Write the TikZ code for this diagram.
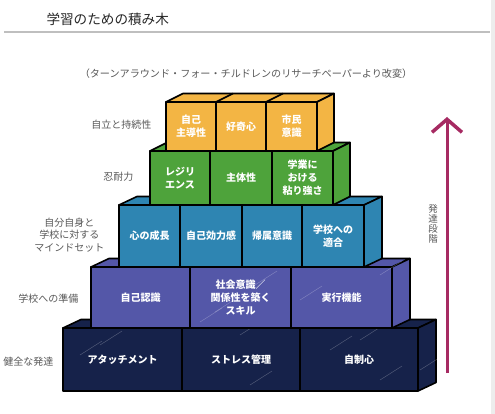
\documentclass[tikz,border=0pt]{standalone}
\usepackage{fontspec}
\newfontfamily\jp{Noto Sans CJK JP}
\usetikzlibrary{arrows.meta}
\definecolor{cY}{HTML}{F3B544}
\definecolor{cG}{HTML}{4EA33B}
\definecolor{cB}{HTML}{2E85B2}
\definecolor{cP}{HTML}{5457A8}
\definecolor{cN}{HTML}{16224A}
\definecolor{cA}{HTML}{A62A62}
\definecolor{cT}{HTML}{595959}
\tikzset{
  blk/.style={draw=black, line width=1.6pt, outer sep=0pt, inner sep=1pt, align=center,
    text=white, font=\jp\bfseries\fontsize{10}{13}\selectfont, line join=round},
  face/.style={draw=black, line width=1.6pt, line join=round},
  lbl/.style={anchor=east, text=cT, align=center, font=\jp\fontsize{10}{12.5}\selectfont},
  sheen/.style={white, opacity=0.25, line width=0.5pt},
}
\begin{document}
\begin{tikzpicture}[x=1pt,y=-1pt]
\useasboundingbox (0,0) rectangle (495,414);
\fill[white] (0,0) rectangle (495,414);
\fill[black!7] (491,0) rectangle (495,414);
% title
\node[anchor=west, text=black!85, font=\jp\fontsize{13.6}{16}\selectfont] (title) at (43,19) {学習のための積み木};
\coordinate (rl) at (4,32); \coordinate (rr) at (490,32);
\draw[black!25, line width=1.5pt] (rl) -- (rr);
\node[text=cT, font=\jp\fontsize{10.1}{12}\selectfont] (sub) at (246,74) {（ターンアラウンド・フォー・チルドレンのリサーチペーパーより改変）};

% ---------- row 1 navy ----------
\coordinate (d) at (18,-8.5);
\filldraw[face, fill=cN] (63,328) -- ++(18,-8.5) -- (436,319.5) -- (418,328) -- cycle;
\filldraw[face, fill=cN] (418,328) -- (436,319.5) -- (436,382.5) -- (418,391) -- cycle;
\node[blk, fill=cN, minimum width=119pt, minimum height=63pt] (n1a) at (122.5,359.5) {アタッチメント};
\node[blk, fill=cN, minimum width=118pt, minimum height=63pt] (n1b) at (241,359.5) {ストレス管理};
\node[blk, fill=cN, minimum width=118pt, minimum height=63pt] (n1c) at (359,359.5) {自制心};
\foreach \a/\b in {80/355,100/345,240/335,250/385,330/350,360/340,380/380,420/370}{
  \draw[sheen] (\a,\b) -- ++(22,-14);}

% ---------- row 2 purple ----------
\filldraw[face, fill=cP] (91,267) -- ++(18,-8.5) -- (410,258.5) -- (392,267) -- cycle;
\filldraw[face, fill=cP] (392,267) -- (410,258.5) -- (410,319.5) -- (392,328) -- cycle;
\node[blk, fill=cP, minimum width=99pt, minimum height=61pt] (p2a) at (140.5,297.5) {自己認識};
\node[blk, fill=cP, minimum width=101pt, minimum height=61pt] (p2b) at (240.5,297.5) {社会意識／\\関係性を築く\\スキル};
\node[blk, fill=cP, minimum width=101pt, minimum height=61pt] (p2c) at (341.5,297.5) {実行機能};
\foreach \a/\b in {200/322,215/312,300/300,380/275,255/285}{
  \draw[sheen] (\a,\b) -- ++(22,-14);}

% ---------- row 3 blue ----------
\filldraw[face, fill=cB] (119,205) -- ++(18,-8.5) -- (382,196.5) -- (364,205) -- cycle;
\filldraw[face, fill=cB] (364,205) -- (382,196.5) -- (382,258.5) -- (364,267) -- cycle;
\node[blk, fill=cB, minimum width=61pt, minimum height=62pt] (b3a) at (149.5,236) {心の成長};
\node[blk, fill=cB, minimum width=62pt, minimum height=62pt] (b3b) at (211,236) {自己効力感};
\node[blk, fill=cB, minimum width=60pt, minimum height=62pt] (b3c) at (272,236) {帰属意識};
\node[blk, fill=cB, minimum width=62pt, minimum height=62pt] (b3d) at (333,236) {学校への\\適合};

% ---------- row 4 green ----------
\filldraw[face, fill=cG] (150,151) -- ++(17,-8.5) -- (350,142.5) -- (333,151) -- cycle;
\filldraw[face, fill=cG] (333,151) -- (350,142.5) -- (350,196.5) -- (333,205) -- cycle;
\node[blk, fill=cG, minimum width=60pt, minimum height=54pt] (g4a) at (180,178) {レジリ\\エンス};
\node[blk, fill=cG, minimum width=62pt, minimum height=54pt] (g4b) at (241,178) {主体性};
\node[blk, fill=cG, minimum width=61pt, minimum height=54pt] (g4c) at (302.5,178) {学業に\\おける\\粘り強さ};

% ---------- row 5 yellow ----------
\filldraw[face, fill=cY] (166,102) -- ++(17,-8.5) -- (334,93.5) -- (317,102) -- cycle;
\draw[face] (216,102) -- ++(17,-8.5);
\draw[face] (266,102) -- ++(17,-8.5);
\filldraw[face, fill=cY] (317,102) -- (334,93.5) -- (334,142.5) -- (317,151) -- cycle;
\node[blk, fill=cY, minimum width=50pt, minimum height=49pt] (y5a) at (191,126.5) {自己\\主導性};
\node[blk, fill=cY, minimum width=50pt, minimum height=49pt] (y5b) at (241,126.5) {好奇心};
\node[blk, fill=cY, minimum width=51pt, minimum height=49pt] (y5c) at (291.5,126.5) {市民\\意識};

% ---------- left labels ----------
\node[lbl] (l5) at (155,125) {自立と持続性};
\node[lbl] (l4) at (137,177) {忍耐力};
\node[lbl] (l3) at (108,235) {自分自身と\\学校に対する\\マインドセット};
\node[lbl] (l2) at (82,299) {学校への準備};
\node[lbl] (l1) at (57,362) {健全な発達};

% ---------- arrow ----------
\coordinate (arrB) at (447,373);
\coordinate (arrT) at (447,117);
\draw[cA, line width=3pt, -{Straight Barb[length=13pt, width=30pt, line width=3.5pt]}] (arrB) -- (arrT);
\node[text=cT, align=center, font=\jp\fontsize{9.5}{9.8}\selectfont] (stage) at (433,224) {発\\達\\段\\階};
\end{tikzpicture}
\end{document}
